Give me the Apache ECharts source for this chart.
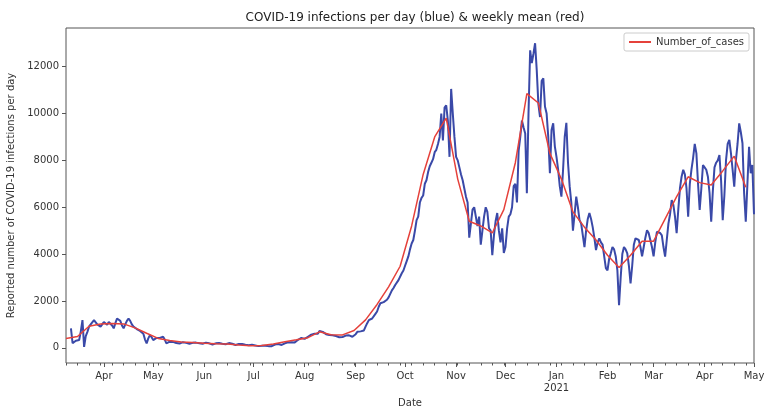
<!DOCTYPE html>
<html><head><meta charset="utf-8">
<script src="https://cdn.jsdelivr.net/npm/echarts@6/dist/echarts.min.js"></script>
<style>html,body{margin:0;padding:0;background:#fff}#c{width:765px;height:406px}</style>
</head><body><div id="c"></div>
<script>
// first category day (a Monday) and number of daily categories
const startYear = 2020, startMonth = 2, startDay = 9;
const dayCount = 419;
// month-start category indices and their labels
const monthStartDays = [23, 53, 84, 114, 145, 176, 206, 237, 267, 298, 329, 357, 388, 418];
const monthLabels = ['Apr', 'May', 'Jun', 'Jul', 'Aug', 'Sep', 'Oct', 'Nov', 'Dec', 'Jan\n2021', 'Feb', 'Mar', 'Apr', 'May'];
const yTicks = [0, 2000, 4000, 6000, 8000, 10000, 12000];

// daily reported infections (blue), one value per day, grouped per week (Mon..Sun)
const dailyCases = [
  null, null, null, 830, 200, 260, 300,
  320, 330, 700, 1180, 40, 500, 680,
  900, 1000, 1080, 1180, 1120, 1000, 920,
  900, 1000, 1100, 1050, 980, 1100, 1120,
  950, 830, 1050, 1250, 1320, 1150, 950,
  830, 1000, 1150, 1250, 1150, 1000, 900,
  850, 800, 780, 720, 650, 600, 350,
  190, 400, 540, 450, 330, 360, 420,
  450, 420, 400, 470, 350, 190, 230,
  260, 280, 250, 230, 200, 160, 180,
  220, 240, 230, 210, 200, 170, 180,
  210, 230, 220, 200, 190, 150, 170,
  200, 220, 210, 190, 180, 140, 160,
  190, 210, 200, 190, 170, 130, 150,
  180, 200, 190, 170, 160, 120, 140,
  160, 170, 160, 140, 130, 100, 110,
  120, 130, 120, 100, 90, 70, 80,
  90, 100, 90, 80, 70, 50, 70,
  110, 140, 150, 160, 150, 120, 140,
  190, 220, 230, 250, 240, 200, 230,
  300, 340, 370, 420, 440, 380, 400,
  470, 520, 560, 580, 600, 560, 600,
  720, 780, 680, 600, 580, 560, 540,
  500, 530, 520, 500, 490, 450, 470,
  460, 500, 520, 540, 530, 480, 470,
  470, 580, 680, 640, 700, 760, 740,
  900, 1050, 1180, 1150, 1250, 1320, 1450,
  1550, 1750, 1900, 1970, 1950, 1900, 2050,
  2150, 2300, 2450, 2550, 2680, 2750, 2890,
  2950, 3180, 3300, 3500, 3700, 3900, 4200,
  4450, 4600, 5000, 5450, 5600, 6200, 6400,
  6500, 7000, 7150, 7500, 7750, 7900, 8050,
  8350, 8450, 8700, 9000, 10000, 8850, 10250,
  10350, 9700, 8150, 11050, 10000, 9000, 8150,
  8000, 7700, 7400, 7150, 6800, 6450, 6200,
  4700, 5300, 5900, 6000, 5600, 5200, 5600,
  4400, 5000, 5600, 6000, 5800, 5100, 5000,
  3950, 4800, 5400, 5750, 5000, 4500, 5100,
  4050, 4300, 5100, 5600, 5700, 6000, 6900,
  7000, 6200, 8400, 9000, 9700, 9400, 9150,
  6600, 10000, 12700, 12150, 12550, 13000, 11850,
  10400, 9850, 11400, 11500, 10300, 10000, 9000,
  7450, 9300, 9580, 8600, 8150, 7600, 6900,
  6450, 7600, 9000, 9600, 7900, 6900, 6200,
  5000, 5700, 6450, 6000, 5450, 5300, 4800,
  4300, 5000, 5500, 5750, 5500, 5150, 4700,
  4170, 4500, 4670, 4500, 4400, 3900, 3400,
  3300, 3800, 4030, 4300, 4200, 3900, 3300,
  1820, 3000, 4000, 4300, 4200, 4030, 3500,
  2750, 3500, 4400, 4670, 4650, 4600, 4300,
  3900, 4300, 4700, 5020, 4900, 4600, 4300,
  3900, 4500, 4950, 5000, 4900, 4800, 4300,
  3890, 4600, 5300, 5700, 6300, 6100, 5600,
  4890, 5900, 6800, 7300, 7600, 7400, 6800,
  5600, 7000, 7600, 8100, 8700, 8300, 7000,
  5880, 6800, 7800, 7700, 7600, 7300, 6600,
  5380, 6700, 7700, 7900, 8000, 8230, 7150,
  5450, 6500, 8000, 8700, 8870, 8300, 7600,
  6880, 8000, 8700, 9580, 9200, 8730, 6600,
  5380, 7000, 8580, 7450, 7800, 5700
];

// weekly mean (red), one value per Monday starting at the first category
const weeklyMean = [
  400, 480, 920, 1010, 1040, 1020, 850, 620, 400, 310,
  250, 220, 190, 170, 160, 120, 90, 100, 160, 260,
  340, 430, 680, 560, 550, 740, 1190, 1850, 2600, 3480,
  5200, 7400, 9000, 9800, 7200, 5400, 5200, 4900, 5900, 7900,
  10850, 10450, 8300, 7200, 5800, 5150, 4600, 3950, 3430, 3950,
  4550, 4550, 5500, 6450, 7300, 7050, 6950, 7550, 8180, 6850
];

const dates = [];
for (let i = 0; i < dayCount; i++) {
  dates.push(new Date(Date.UTC(startYear, startMonth, startDay + i)).toISOString().slice(0, 10));
}
const monthIdx = new Map(monthStartDays.map((d, i) => [d, monthLabels[i]]));
const weeklyData = weeklyMean.map((v, i) => [i * 7, v]);

const font = 'DejaVu Sans';
const textColor = '#333';

const chart = echarts.init(document.getElementById('c'), null, {renderer: 'canvas'});
chart.setOption({
  animation: false,
  backgroundColor: '#fff',
  title: {
    text: 'COVID-19 infections per day (blue) & weekly mean (red)',
    left: 410, top: 7, textAlign: 'center',
    textStyle: {fontFamily: font, fontSize: 12, fontWeight: 'normal', color: '#222'}
  },
  legend: {
    data: ['Number_of_cases'],
    right: 16, top: 33,
    icon: 'rect', itemWidth: 22, itemHeight: 2,
    padding: [4, 5, 4, 5],
    borderColor: '#ccc', borderWidth: 1, borderRadius: 2,
    backgroundColor: '#fff',
    textStyle: {fontFamily: font, fontSize: 10, color: textColor}
  },
  grid: {
    left: 66, right: 11, top: 28, bottom: 43,
    show: true, borderColor: '#555', borderWidth: 1,
    containLabel: false, outerBoundsMode: 'none'
  },
  xAxis: [{
    type: 'category', data: dates, boundaryGap: false, position: 'bottom',
    name: 'Date', nameLocation: 'middle', nameGap: 31,
    nameTextStyle: {fontFamily: font, fontSize: 10, color: textColor},
    axisLine: {show: false, onZero: false},
    axisTick: {show: true, length: 4, interval: (i) => monthIdx.has(i), lineStyle: {color: '#555'}},
    axisLabel: {
      interval: (i) => monthIdx.has(i),
      formatter: (v, i) => monthIdx.get(i) || '',
      fontFamily: font, fontSize: 10, color: textColor, margin: 7, lineHeight: 12
    },
    splitLine: {show: false}
  }, {
    type: 'category', data: dates, boundaryGap: false, position: 'bottom', offset: 0,
    axisLine: {show: false, onZero: false},
    axisTick: {show: true, length: 2.5, interval: (i) => i % 7 === 0 && !monthIdx.has(i), lineStyle: {color: '#555'}},
    axisLabel: {show: false},
    splitLine: {show: false}
  }],
  yAxis: {
    type: 'value', min: -650, max: 13650,
    name: 'Reported number of COVID-19 infections per day',
    nameLocation: 'middle', nameGap: 45,
    nameTextStyle: {fontFamily: font, fontSize: 10, color: textColor},
    axisLine: {show: false, onZero: false},
    axisTick: {show: true, length: 4, customValues: yTicks, lineStyle: {color: '#555'}},
    axisLabel: {customValues: yTicks, formatter: (v) => String(v), fontFamily: font, fontSize: 10, color: textColor, margin: 7},
    splitLine: {show: false}
  },
  series: [{
    name: 'daily', type: 'line', data: dailyCases, showSymbol: false, symbol: 'none',
    lineStyle: {color: '#3a49a8', width: 2}, itemStyle: {color: '#3a49a8'}, z: 2
  }, {
    name: 'Number_of_cases', type: 'line', data: weeklyData, showSymbol: false, symbol: 'none',
    lineStyle: {color: '#e5413b', width: 1.5}, itemStyle: {color: '#e5413b'}, z: 3
  }]
});
</script>
</body></html>
